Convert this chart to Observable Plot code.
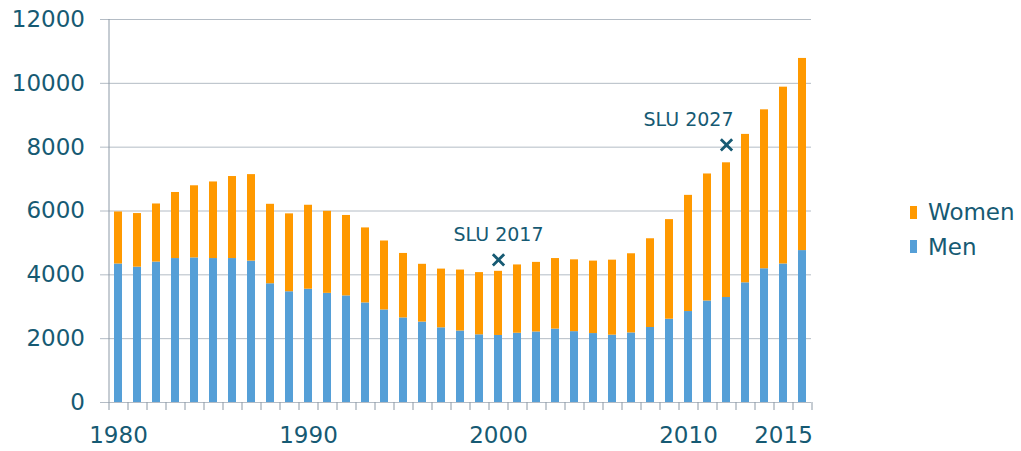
<!DOCTYPE html>
<html><head><meta charset="utf-8">
<script src="https://cdn.jsdelivr.net/npm/d3@7"></script>
<script src="https://cdn.jsdelivr.net/npm/@observablehq/plot@0.6"></script>
<style>
body{margin:0;background:#fff;font-family:"DejaVu Sans",Verdana,sans-serif;}
#wrap{position:relative;width:1021px;height:451px;overflow:hidden;}
#legend{position:absolute;left:910px;top:195px;color:#165A73;font-size:23px;line-height:34.5px;}
.item{display:flex;align-items:center;gap:11px;white-space:nowrap;}
.sw{width:7px;height:13px;display:inline-block;}
</style></head><body><div id="wrap"></div>
<script>
const years = [1980,1981,1982,1983,1984,1985,1986,1987,1988,1989,1990,1991,1992,1993,1994,1995,1996,1997,1998,1999,2000,2001,2002,2003,2004,2005,2006,2007,2008,2009,2010,2011,2012,2013,2014,2015,2016];
const men = [4340,4240,4400,4510,4530,4510,4510,4430,3720,3470,3550,3420,3340,3120,2900,2650,2520,2340,2240,2120,2100,2170,2210,2300,2220,2160,2110,2180,2350,2610,2850,3180,3290,3750,4190,4340,4760];
const women = [1630,1680,1820,2070,2260,2400,2570,2710,2490,2440,2630,2570,2520,2350,2160,2020,1810,1840,1910,1950,2010,2140,2180,2210,2250,2270,2350,2480,2780,3120,3640,3980,4220,4650,4980,5540,6020];
const seriesNames = ["Men","Women"];
const seriesColors = ["#559FD7","#FF9900"];
const legendOrder = ["Women","Men"];
const yTicks = [0,2000,4000,6000,8000,10000,12000];
const xTickLabels = [1980,1990,2000,2010,2015];
const annoLabels = ["SLU 2017","SLU 2027"];
const annoYears = [2000,2012];
const annoValues = [4470,8070];
const annoLabelYears = [2000,2010];

const textColor = "#165A73";
const gridColor = "#B4BCC5";
const axisColor = "#8C99A6";
const W = 1021, H = 451, mL = 108, mR = 210, mT = 19, mB = 49;
const step = (W - mL - mR) / years.length;

const table = [];
years.forEach((yr, i) => table.push({year: yr, sex: "Men", value: men[i]}));
years.forEach((yr, i) => table.push({year: yr, sex: "Women", value: women[i]}));
const annos = annoLabels.map((l, i) => ({label: l, year: annoYears[i], value: annoValues[i], labelYear: annoLabelYears[i]}));

const chart = Plot.plot({
  width: W, height: H,
  marginLeft: mL, marginRight: mR, marginTop: mT, marginBottom: mB,
  style: {fontFamily: '"DejaVu Sans", Verdana, sans-serif', background: "white", overflow: "visible"},
  x: {type: "band", domain: years, paddingInner: 0.6, paddingOuter: 0.3, axis: null},
  y: {domain: [0, 12000], axis: null},
  color: {domain: seriesNames, range: seriesColors},
  marks: [
    Plot.ruleY(yTicks, {stroke: gridColor}),
    Plot.axisY({ticks: yTicks, tickSize: 8, tickPadding: 15.5, stroke: gridColor, fill: textColor, fontSize: 23, label: null, tickFormat: d => String(d)}),
    Plot.axisX({ticks: years, tickSize: 8, tickFormat: () => "", dx: -step / 2, stroke: axisColor, label: null}),
    Plot.axisX({ticks: [years[years.length - 1]], tickSize: 8, tickFormat: () => "", dx: step / 2, stroke: axisColor, label: null}),
    Plot.ruleX([years[0]], {y1: 0, y2: 12000, dx: -step / 2, stroke: axisColor}),
    Plot.barY(table, {x: "year", y: "value", fill: "sex"}),
    Plot.axisX({ticks: xTickLabels, tickSize: 0, tickPadding: 24, fill: textColor, fontSize: 23, label: null, tickFormat: d => String(d)}),
    Plot.dot(annos, {x: "year", y: "value", symbol: "times", r: 5.2, stroke: textColor, strokeWidth: 2.8}),
    Plot.text(annos, {x: "labelYear", y: "value", text: "label", dy: -25, fill: textColor, fontSize: 19})
  ]
});
const wrap = document.getElementById("wrap");
wrap.appendChild(chart);

const legend = document.createElement("div");
legend.id = "legend";
legendOrder.forEach(name => {
  const item = document.createElement("div");
  item.className = "item";
  const sw = document.createElement("span");
  sw.className = "sw";
  sw.style.background = seriesColors[seriesNames.indexOf(name)];
  const t = document.createElement("span");
  t.textContent = name;
  item.appendChild(sw);
  item.appendChild(t);
  legend.appendChild(item);
});
wrap.appendChild(legend);
</script>
</body></html>
